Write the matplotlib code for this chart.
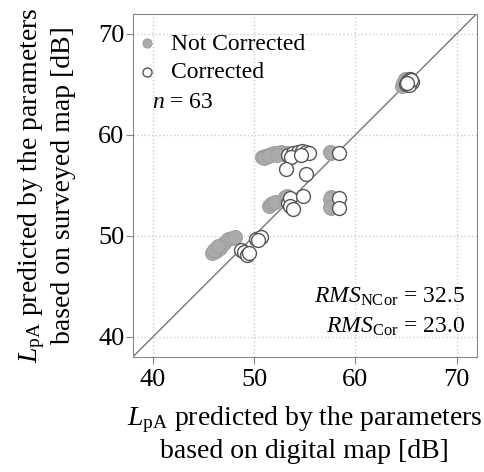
import numpy as np
import matplotlib.pyplot as plt

plt.rcParams['font.family'] = 'Liberation Serif'
plt.rcParams['mathtext.fontset'] = 'custom'
plt.rcParams['mathtext.rm'] = 'Liberation Serif'
plt.rcParams['mathtext.it'] = 'Liberation Serif:italic'

# Not corrected (digital map vs surveyed map)
x_ncor = [64.6, 64.8, 65.0, 65.1, 64.9, 65.2, 64.7, 65.0,
          50.8, 51.1, 51.4, 51.7, 52.0, 52.3, 52.6, 52.9, 53.2, 51.0, 51.5, 52.2,
          57.6, 57.5,
          51.5, 51.7, 51.9, 52.1, 53.0, 53.2,
          57.6, 57.6, 57.5, 57.5,
          45.8, 46.2, 46.6, 47.0, 47.4, 47.8, 48.1, 46.0, 46.4]
y_ncor = [64.8, 65.2, 65.0, 65.4, 65.5, 64.9, 65.1, 65.3,
          57.8, 57.9, 58.0, 58.1, 58.2, 58.2, 58.3, 58.1, 58.2, 57.7, 57.9, 58.0,
          58.2, 58.3,
          52.9, 53.1, 53.2, 53.3, 53.8, 53.9,
          53.8, 52.7, 53.6, 52.8,
          48.3, 48.5, 48.8, 49.3, 49.7, 49.8, 49.9, 48.6, 49.0]

# Corrected
x_cor = [65.0, 65.2, 65.4, 65.6, 65.3, 65.5, 65.1,
         53.3, 53.8, 54.3, 54.7, 55.1, 55.4, 53.6, 54.6,
         53.1, 55.1,
         58.4,
         53.3, 53.5, 53.5, 54.8, 53.8,
         58.4, 58.4,
         48.7, 49.0, 49.3, 49.5, 50.2, 50.7, 50.4]
y_cor = [65.0, 65.3, 65.5, 65.2, 64.9, 65.4, 65.1,
         58.0, 58.2, 58.3, 58.4, 58.3, 58.2, 57.8, 58.0,
         56.6, 56.1,
         58.2,
         53.2, 53.7, 52.9, 53.9, 52.6,
         53.7, 52.7,
         48.6, 48.4, 48.1, 48.3, 49.7, 49.9, 49.6]

fig = plt.figure(figsize=(4.85, 4.72), dpi=100)
ax = fig.add_axes([0.274, 0.244, 0.709, 0.727])

ax.plot([38, 72], [38, 72], color='#777777', lw=1, zorder=1)
ax.scatter(x_ncor, y_ncor, s=100, color='#ababab', edgecolor='#a0a0a0', lw=0.8,
           label='Not Corrected', zorder=2)
ax.scatter(x_cor, y_cor, s=100, facecolor='white', edgecolor='#555555', lw=1,
           label='Corrected', zorder=3)

ax.set_xlim(38, 72)
ax.set_ylim(38, 72)
ax.set_xticks([40, 50, 60, 70])
ax.set_yticks([40, 50, 60, 70])
ax.grid(True, ls=':', color='#cccccc', lw=1)
ax.set_axisbelow(True)
for sp in ax.spines.values():
    sp.set_color('#888888')
ax.tick_params(direction='out', length=5, color='#888888', labelsize=19)
ax.tick_params(axis='x', pad=4)
ax.tick_params(axis='y', pad=1)

ax.set_xlabel('$\\mathit{L}_{\\mathrm{pA}}$ predicted by the parameters\nbased on digital map [dB]',
              fontsize=20, linespacing=1.22, labelpad=9)
ax.set_ylabel('$\\mathit{L}_{\\mathrm{pA}}$ predicted by the parameters\nbased on surveyed map [dB]',
              fontsize=20, linespacing=1.22, labelpad=16)

ax.legend(loc='upper left', bbox_to_anchor=(-0.07, 0.985), frameon=False, fontsize=17,
          handletextpad=0.05, borderaxespad=0.2, labelspacing=0.3, markerscale=0.65)
ax.text(39.9, 63.2, '$\\mathit{n}$ = 63', fontsize=17, va='center')
ax.text(70.8, 43.9, '$\\mathit{RMS}_{\\mathrm{NCor}}$ = 32.5', fontsize=17, ha='right', va='center')
ax.text(70.8, 41.0, '$\\mathit{RMS}_{\\mathrm{Cor}}$ = 23.0', fontsize=17, ha='right', va='center')

fig.savefig('out.png', dpi=100)
